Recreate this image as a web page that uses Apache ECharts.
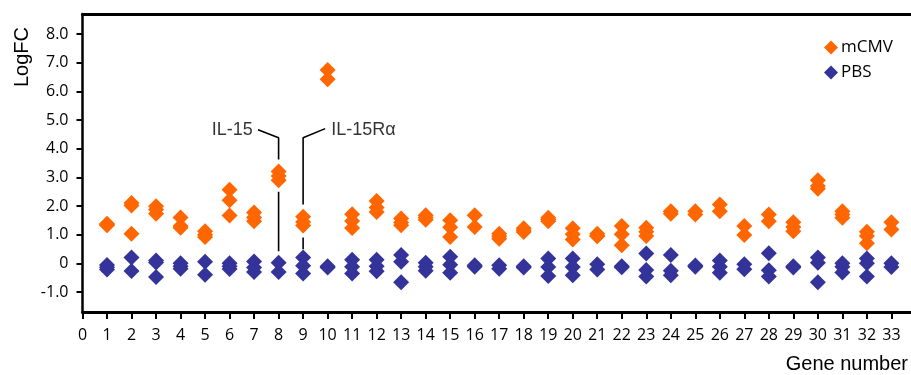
<!DOCTYPE html>
<html>
<head>
<meta charset="utf-8">
<script src="https://cdn.jsdelivr.net/npm/echarts@6/dist/echarts.min.js"></script>
<style>
html,body{margin:0;padding:0;background:#fff;}
#chart{width:911px;height:375px;}
</style>
</head>
<body>
<div id="chart"></div>
<script>
// Gene numbers (x axis)
const genes = [1,2,3,4,5,6,7,8,9,10,11,12,13,14,15,16,17,18,19,20,21,22,23,24,25,26,27,28,29,30,31,32,33];
// LogFC values per gene (replicates), mCMV-infected
const mcmvVals = [
  [1.38,1.35,1.33],[2.1,2.02,1.03],[1.99,1.88,1.73],[1.6,1.3,1.24],[1.12,1.0,0.92],
  [2.57,2.2,1.67],[1.77,1.6,1.47],[3.2,3.05,2.9],[1.62,1.44,1.32],[6.75,6.42],
  [1.71,1.48,1.23],[2.17,1.95,1.79],[1.56,1.42,1.33],[1.68,1.6,1.52],[1.5,1.26,0.92],
  [1.68,1.27],[1.03,0.94,0.86],[1.22,1.15,1.09],[1.59,1.53,1.47],[1.22,1.01,0.83],
  [1.03,0.96,0.94],[1.3,1.01,0.63],[1.24,1.1,0.95],[1.82,1.73],[1.82,1.7],
  [2.05,1.82],[1.3,0.99],[1.7,1.47],[1.43,1.27,1.12],[2.9,2.7,2.6],
  [1.82,1.7,1.59],[1.1,0.95,0.7],[1.43,1.18]
];
// LogFC values per gene (replicates), PBS control
const pbsVals = [
  [-0.06,-0.14,-0.22],[0.2,-0.27],[0.1,0.03,-0.48],[0.0,-0.1,-0.19],[0.05,-0.4],
  [0.0,-0.1,-0.2],[0.06,-0.15,-0.3],[0.02,-0.3],[0.2,-0.09,-0.36],[-0.1,-0.15],
  [0.12,-0.12,-0.36],[0.12,-0.1,-0.28],[0.29,0.05,-0.66],[0.02,-0.12,-0.26],[0.23,-0.05,-0.33],
  [-0.07,-0.12],[-0.07,-0.19],[-0.1,-0.15],[0.17,-0.13,-0.44],[0.17,-0.13,-0.42],
  [-0.03,-0.22],[-0.1,-0.14],[0.34,-0.23,-0.46],[0.29,-0.26,-0.42],[-0.08,-0.12],
  [0.1,-0.12,-0.33],[-0.03,-0.21],[0.35,-0.24,-0.46],[-0.1,-0.15],[0.2,0.02,-0.66],
  [0.0,-0.12,-0.32],[0.17,0.0,-0.46],[0.0,-0.13]
];
// Axis tick values
const xTicks = [0,1,2,3,4,5,6,7,8,9,10,11,12,13,14,15,16,17,18,19,20,21,22,23,24,25,26,27,28,29,30,31,32,33];
const yTicks = [-1,0,1,2,3,4,5,6,7,8];
// Annotation callouts (data units)
const il15Line = [[7.16,4.66],[8,4.38],[8,3.62],null,[8,2.5],[8,0.42]];
const il15RaLine = [[9.9,4.7],[9,4.38],[9,2.05],null,[9,0.9],[9,0.49]];
const annotLabels = [
  {name:'IL-15', pos:[6.95,4.66], side:'left'},
  {name:'IL-15R\u03b1', pos:[10.15,4.66], side:'right'}
];

function flatten(vals){
  const out = [];
  vals.forEach((arr,i)=>arr.forEach(v=>out.push([genes[i], v])));
  return out;
}

const chart = echarts.init(document.getElementById('chart'));
const axisFont = {fontFamily:'Open Sans', fontSize:16, color:'#000'};
chart.setOption({
  animation:false,
  grid:{left:82.5, right:0, top:14, bottom:63, containLabel:false},
  legend:{
    orient:'vertical', left:819, top:34, itemGap:8,
    itemWidth:14, itemHeight:14, icon:'diamond',
    textStyle:{fontFamily:'Open Sans', fontSize:17, color:'#000', padding:[0,0,0,-2]},
    data:['mCMV','PBS']
  },
  xAxis:[{
    type:'value', min:0, max:33.8, position:'bottom',
    axisLine:{show:true, onZero:false, lineStyle:{color:'#000', width:3}},
    axisTick:{show:true, inside:false, length:7, customValues:xTicks, lineStyle:{color:'#000', width:2}},
    axisLabel:{show:true, customValues:xTicks, margin:15, ...axisFont},
    splitLine:{show:false}
  },{
    type:'value', min:0, max:33.8, position:'top',
    axisLine:{show:true, onZero:false, lineStyle:{color:'#000', width:3}},
    axisTick:{show:false}, axisLabel:{show:false}, splitLine:{show:false}
  }],
  yAxis:{
    type:'value', min:-1.7, max:8.7,
    axisLine:{show:true, onZero:false, lineStyle:{color:'#000', width:2.5}},
    axisTick:{show:true, length:6, customValues:yTicks, lineStyle:{color:'#000', width:2}},
    axisLabel:{show:true, customValues:yTicks, margin:14, ...axisFont,
      formatter:v=> (Math.abs(v)<1e-9 ? '0' : v.toFixed(1))},
    splitLine:{show:false}
  },
  graphic:[
    {type:'text', x:22, y:57, rotation:Math.PI/2,
     style:{text:'LogFC', fontFamily:'Liberation Sans', fontSize:20, fill:'#000', align:'center', verticalAlign:'middle'}},
    {type:'text', x:908, y:364,
     style:{text:'Gene number', fontFamily:'Liberation Sans', fontSize:20, fill:'#000', align:'right', verticalAlign:'middle'}}
  ],
  series:[
    {name:'mCMV', type:'scatter', symbol:'diamond', symbolSize:16,
     itemStyle:{color:'#FF6600', opacity:1}, data:flatten(mcmvVals), z:3},
    {name:'PBS', type:'scatter', symbol:'diamond', symbolSize:16,
     itemStyle:{color:'#333399', opacity:1}, data:flatten(pbsVals), z:3},
    {name:'il15', type:'line', data:il15Line, symbol:'none', connectNulls:false, silent:true,
     lineStyle:{color:'#000', width:1.6}, z:2},
    {name:'il15ra', type:'line', data:il15RaLine, symbol:'none', connectNulls:false, silent:true,
     lineStyle:{color:'#000', width:1.6}, z:2},
    {name:'labels', type:'scatter', symbolSize:0, silent:true,
     data:annotLabels.map(a=>({value:a.pos, name:a.name,
       label:{show:true, position:a.side, distance:0, formatter:a.name,
         fontFamily:'Liberation Sans', fontSize:18, color:'#000'}})), z:4}
  ]
});
</script>
</body>
</html>
